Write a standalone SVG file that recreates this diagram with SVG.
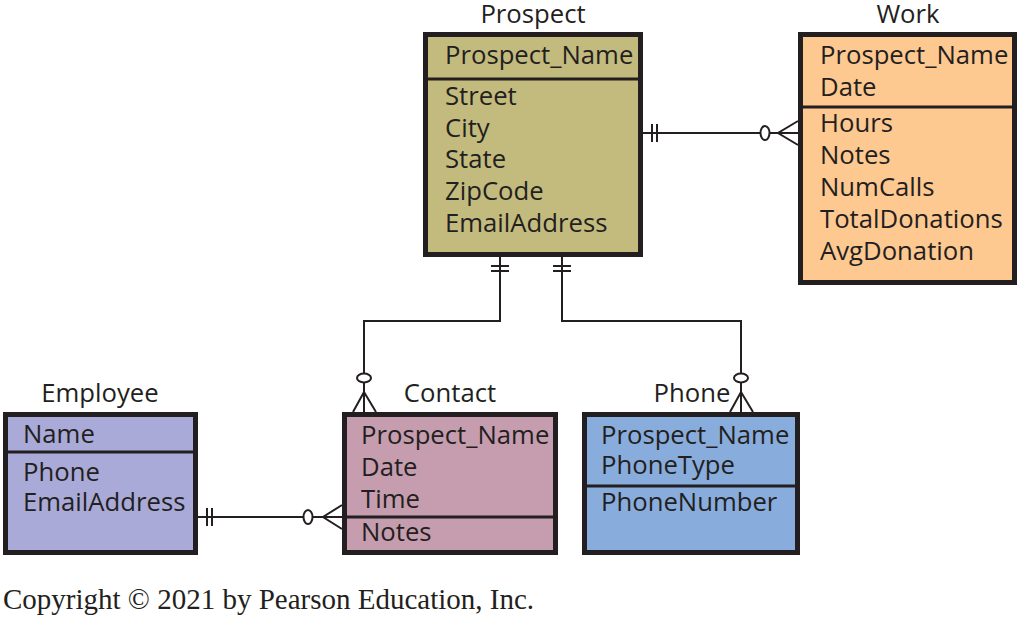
<svg xmlns="http://www.w3.org/2000/svg" width="1020" height="617" viewBox="0 0 1020 617">
<style>
.box{stroke:#231f20;stroke-width:5}
.div{stroke:#231f20;stroke-width:3}
text{font-family:"Open Sans","Liberation Sans",sans-serif;font-size:25.7px;fill:#231f20}
.title{text-anchor:middle}
.cp{font-family:"Liberation Serif","Times New Roman",serif;font-size:29px;fill:#231f20}
.ln{stroke:#231f20;stroke-width:2;fill:none}
.oc{stroke:#231f20;stroke-width:2;fill:#fff}
</style>
<rect width="1020" height="617" fill="#fff"/>
<g id="connectors">
  <!-- Prospect - Work -->
  <path class="ln" d="M643,133 H798"/>
  <path class="ln" d="M652,124 V142 M657,124 V142"/>
  <ellipse class="oc" cx="765" cy="133" rx="4.5" ry="7"/>
  <path class="ln" d="M798,121 L778,133 L798,145"/>
  <!-- Employee - Contact -->
  <path class="ln" d="M198,517 H342"/>
  <path class="ln" d="M207,508 V526 M212,508 V526"/>
  <ellipse class="oc" cx="308" cy="517" rx="4.5" ry="7"/>
  <path class="ln" d="M342,505 L323,517 L342,529"/>
  <!-- Prospect - Contact -->
  <path class="ln" d="M500,257 V321 H364 V412"/>
  <path class="ln" d="M491,266 H509 M491,271 H509"/>
  <ellipse class="oc" cx="364" cy="378" rx="7" ry="4.5"/>
  <path class="ln" d="M353,412 L364,392 L376,412"/>
  <!-- Prospect - Phone -->
  <path class="ln" d="M562,257 V321 H741 V412"/>
  <path class="ln" d="M553,266 H571 M553,271 H571"/>
  <ellipse class="oc" cx="741" cy="378" rx="7" ry="4.5"/>
  <path class="ln" d="M730,412 L741,392 L753,412"/>
</g>
<g id="prospect">
  <text class="title" x="533" y="23">Prospect</text>
  <rect class="box" x="425.5" y="34.5" width="215" height="220" fill="#c3bb7e"/>
  <line class="div" x1="428" y1="79" x2="638" y2="79"/>
  <text x="445" y="64">Prospect_Name</text>
  <text x="445" y="105">Street</text>
  <text x="445" y="137">City</text>
  <text x="445" y="168">State</text>
  <text x="445" y="200">ZipCode</text>
  <text x="445" y="232">EmailAddress</text>
</g>
<g id="work">
  <text class="title" x="908" y="23">Work</text>
  <rect class="box" x="800.5" y="34.5" width="214" height="248" fill="#fec891"/>
  <line class="div" x1="803" y1="107" x2="1012" y2="107"/>
  <text x="820" y="64">Prospect_Name</text>
  <text x="820" y="96">Date</text>
  <text x="820" y="132">Hours</text>
  <text x="820" y="164">Notes</text>
  <text x="820" y="196">NumCalls</text>
  <text x="820" y="228">TotalDonations</text>
  <text x="820" y="260">AvgDonation</text>
</g>
<g id="employee">
  <text class="title" x="100" y="402">Employee</text>
  <rect class="box" x="5.5" y="414.5" width="190" height="138" fill="#a9aad8"/>
  <line class="div" x1="8" y1="452" x2="193" y2="452"/>
  <text x="23" y="443">Name</text>
  <text x="23" y="481">Phone</text>
  <text x="23" y="511">EmailAddress</text>
</g>
<g id="contact">
  <text class="title" x="450" y="402">Contact</text>
  <rect class="box" x="344.5" y="414.5" width="211" height="138" fill="#c59dae"/>
  <line class="div" x1="347" y1="517" x2="553" y2="517"/>
  <text x="361" y="444">Prospect_Name</text>
  <text x="361" y="476">Date</text>
  <text x="361" y="508">Time</text>
  <text x="361" y="541">Notes</text>
</g>
<g id="phone">
  <text class="title" x="692" y="402">Phone</text>
  <rect class="box" x="584.5" y="414.5" width="213" height="138" fill="#88addc"/>
  <line class="div" x1="587" y1="486" x2="795" y2="486"/>
  <text x="601" y="444">Prospect_Name</text>
  <text x="601" y="474">PhoneType</text>
  <text x="601" y="511">PhoneNumber</text>
</g>
<text class="cp" x="3" y="609">Copyright © 2021 by Pearson Education, Inc.</text>
</svg>
